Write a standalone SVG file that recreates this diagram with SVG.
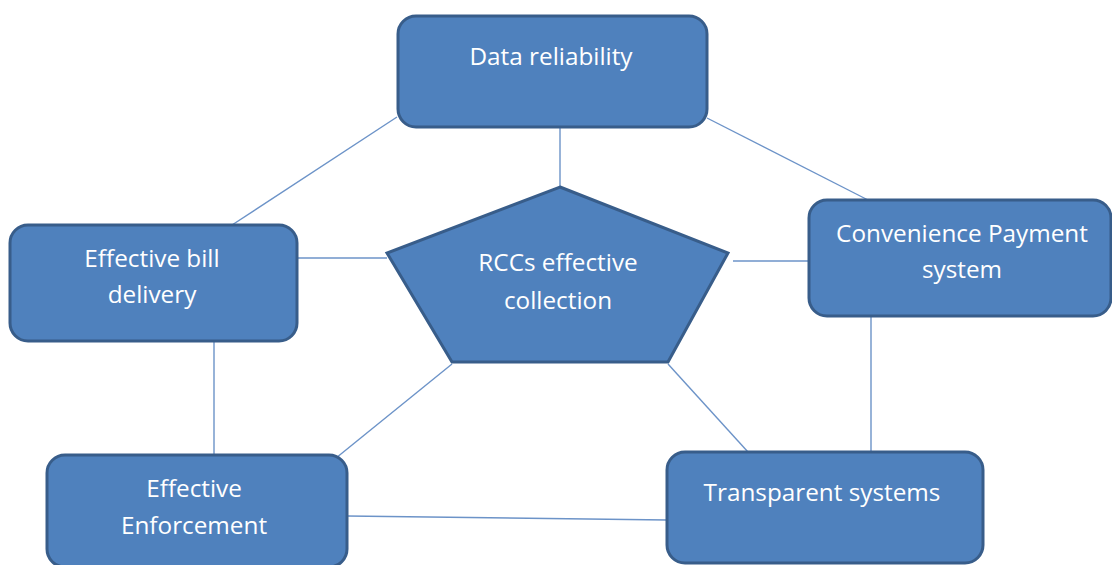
<svg xmlns="http://www.w3.org/2000/svg" width="1112" height="565" viewBox="0 0 1112 565">
  <style>
    .box { fill: #4f81bd; stroke: #385d8a; stroke-width: 3; }
    .link { stroke: #6c93c8; stroke-width: 1.4; fill: none; }
    .label { fill: #ffffff; font-family: "Open Sans", "Liberation Sans", sans-serif; font-size: 24.3px; text-anchor: middle; }
  </style>
  <rect width="1112" height="565" fill="#ffffff"/>

  <g id="connectors">
    <line class="link" x1="560" y1="127" x2="560" y2="187"/>
    <line class="link" x1="397" y1="117" x2="232" y2="225"/>
    <line class="link" x1="707" y1="118" x2="868" y2="200"/>
    <line class="link" x1="297" y1="258" x2="387" y2="258"/>
    <line class="link" x1="733" y1="261" x2="809" y2="261"/>
    <line class="link" x1="214" y1="341" x2="214" y2="455"/>
    <line class="link" x1="452" y1="364" x2="336" y2="458"/>
    <line class="link" x1="668" y1="364" x2="748" y2="452"/>
    <line class="link" x1="871" y1="316" x2="871" y2="452"/>
    <line class="link" x1="347" y1="516" x2="667" y2="520"/>
  </g>

  <g id="data-reliability">
    <rect class="box" x="398" y="16" width="309" height="111" rx="18"/>
    <text class="label" x="551" y="65">Data reliability</text>
  </g>

  <g id="rccs-collection">
    <polygon class="box" points="560,187 728,253 668,362 452,362 387,253" stroke-linejoin="miter"/>
    <text class="label" x="558" y="271">RCCs effective</text>
    <text class="label" x="558" y="309">collection</text>
  </g>

  <g id="bill-delivery">
    <rect class="box" x="10" y="225" width="287" height="116" rx="18"/>
    <text class="label" x="152" y="267">Effective bill</text>
    <text class="label" x="152" y="303">delivery</text>
  </g>

  <g id="convenience-payment">
    <rect class="box" x="809" y="200" width="302" height="116" rx="18"/>
    <text class="label" x="962" y="242">Convenience Payment</text>
    <text class="label" x="962" y="278">system</text>
  </g>

  <g id="effective-enforcement">
    <rect class="box" x="47" y="455" width="300" height="112" rx="18"/>
    <text class="label" x="194" y="497">Effective</text>
    <text class="label" x="194" y="534">Enforcement</text>
  </g>

  <g id="transparent-systems">
    <rect class="box" x="667" y="452" width="316" height="111" rx="18"/>
    <text class="label" x="822" y="501">Transparent systems</text>
  </g>
</svg>
